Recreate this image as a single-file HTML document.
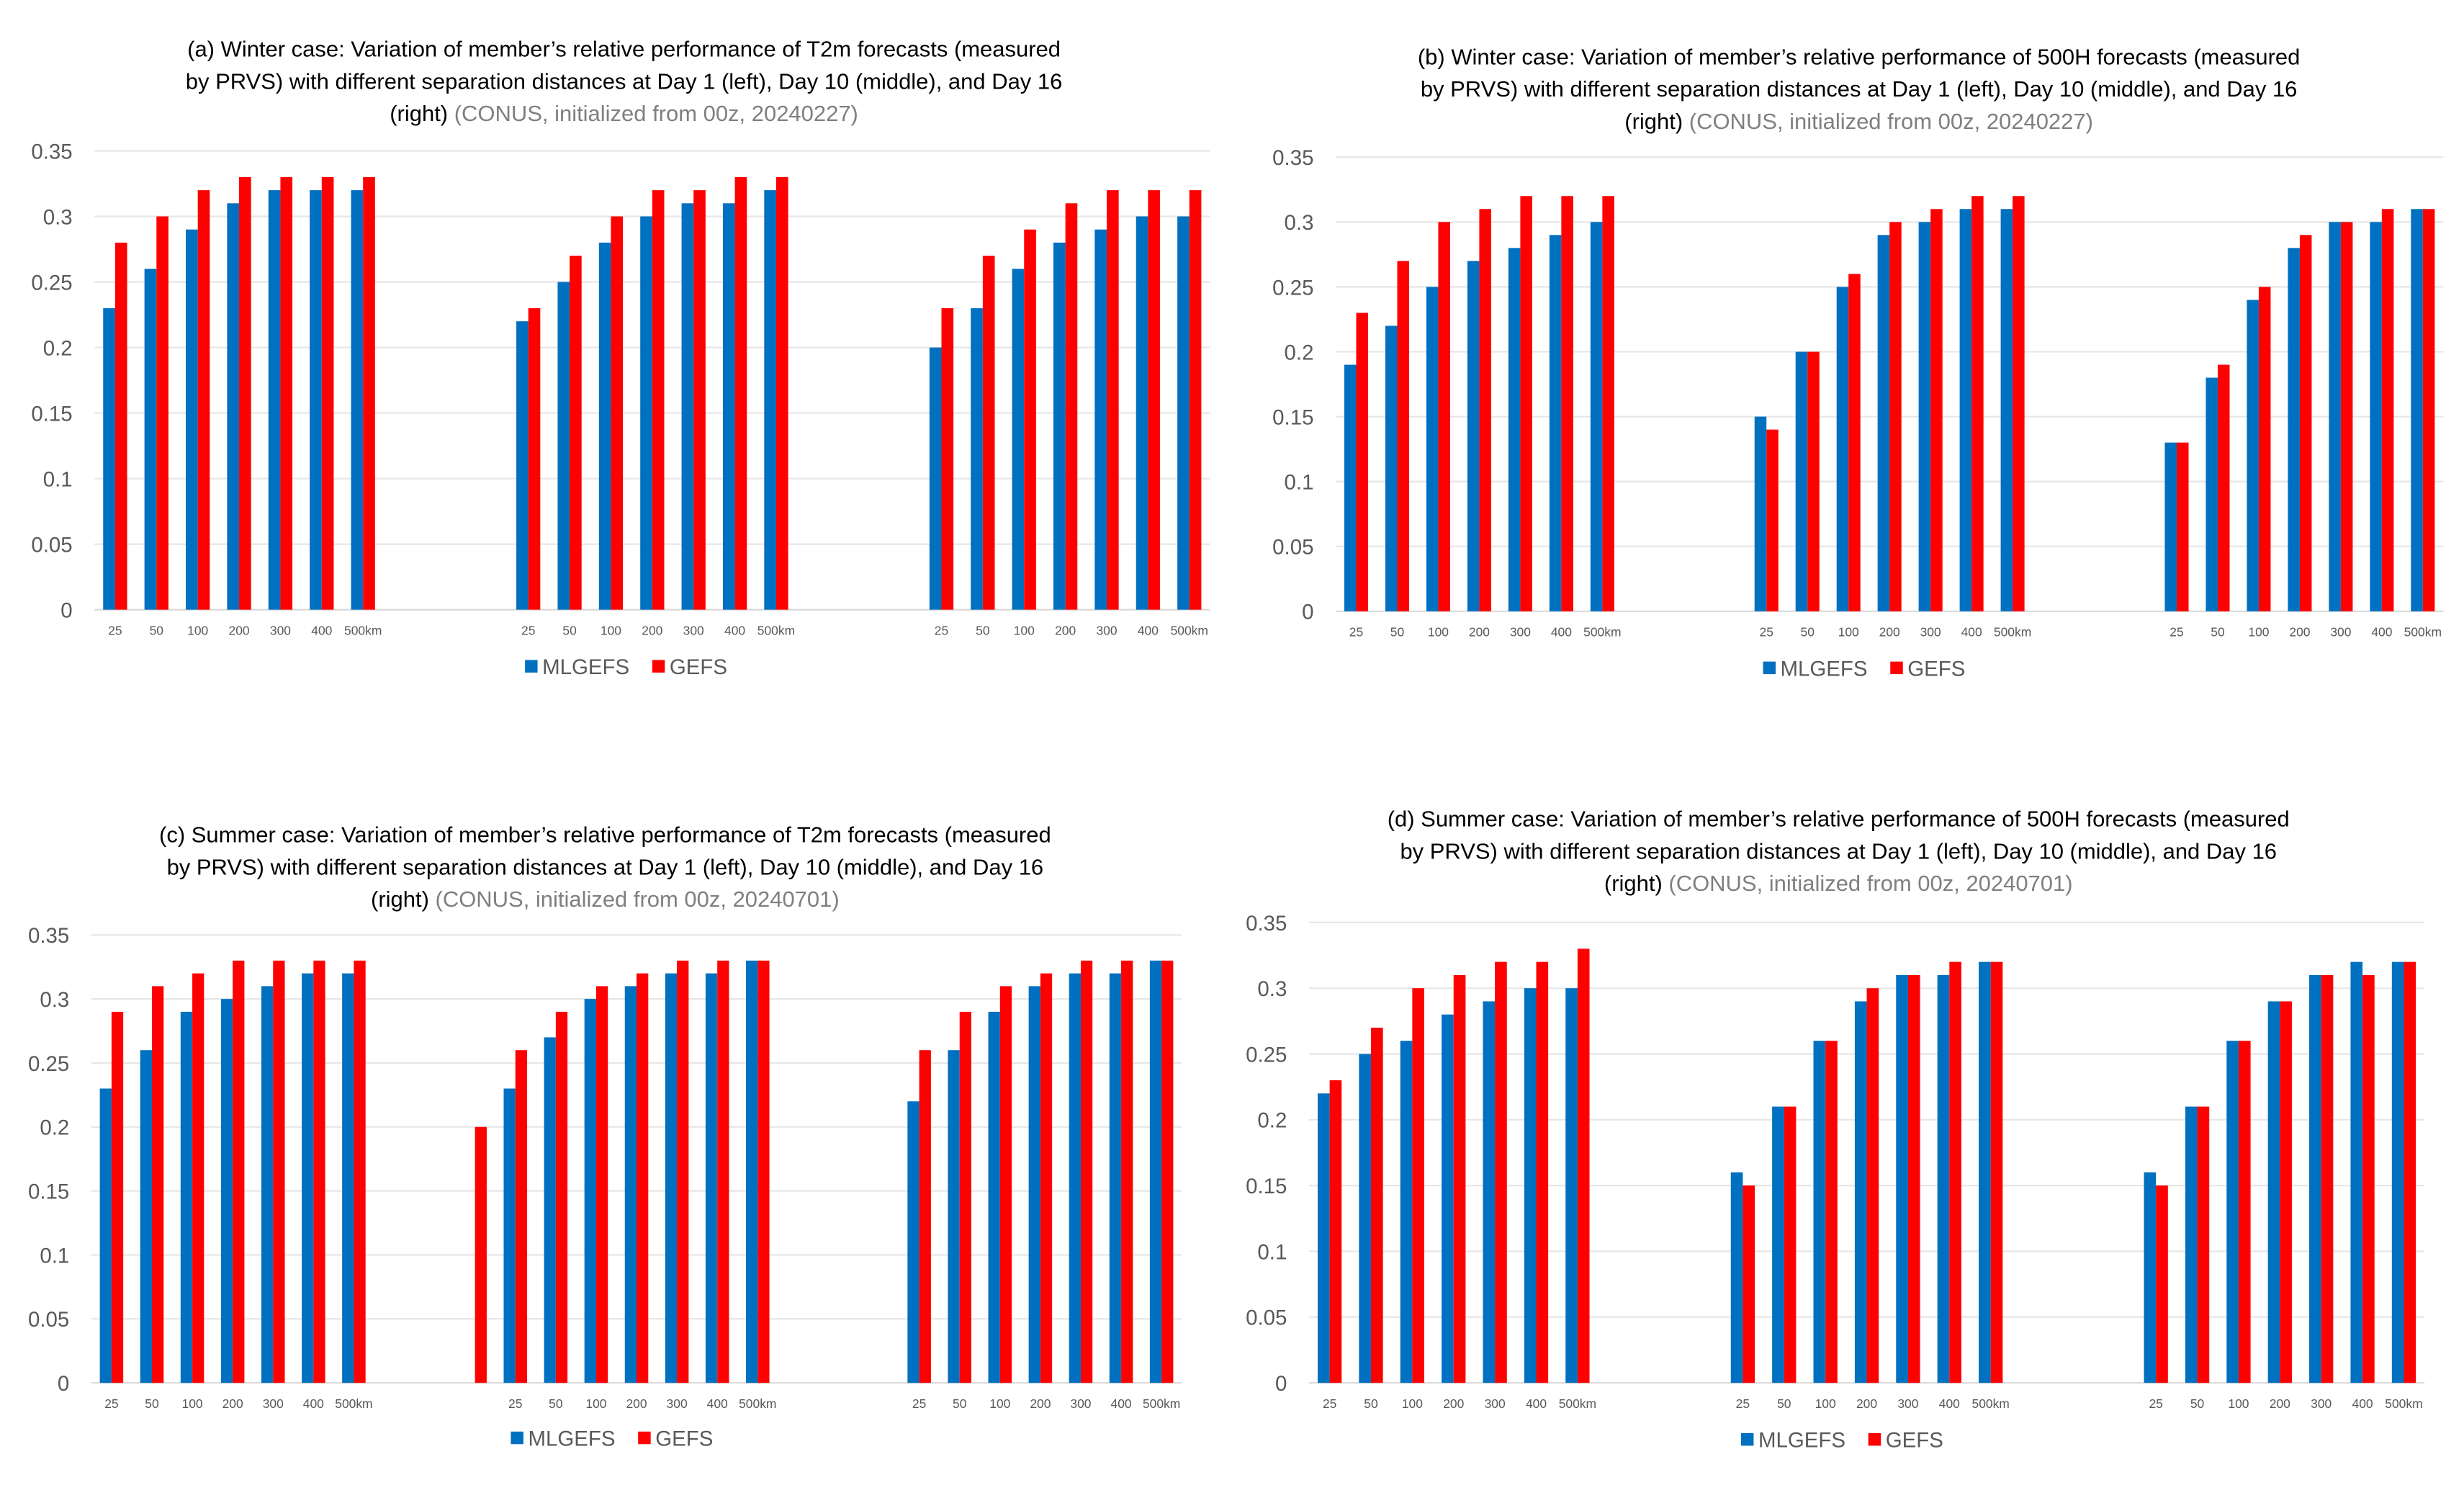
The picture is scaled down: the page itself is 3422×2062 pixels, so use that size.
<!DOCTYPE html>
<html><head><meta charset="utf-8">
<style>
html,body{margin:0;padding:0;background:#fff;}
svg{display:block;}
text{font-family:"Liberation Sans",sans-serif;}
</style></head>
<body>
<svg id="fig" width="3422" height="2062" viewBox="0 0 1568 945" xmlns="http://www.w3.org/2000/svg"></svg>
<script>
// ---- data ----
const distances = ["25","50","100","200","300","400","500km"];
const yTicks = [0,0.05,0.1,0.15,0.2,0.25,0.3,0.35];
const yTickLabels = ["0","0.05","0.1","0.15","0.2","0.25","0.3","0.35"];
// panel a
const aML = [.23,.26,.29,.31,.32,.32,.32, null,null,null, .22,.25,.28,.30,.31,.31,.32, null,null,null, .20,.23,.26,.28,.29,.30,.30];
const aGE = [.28,.30,.32,.33,.33,.33,.33, null,null,null, .23,.27,.30,.32,.32,.33,.33, null,null,null, .23,.27,.29,.31,.32,.32,.32];
// panel b
const bML = [.19,.22,.25,.27,.28,.29,.30, null,null,null, .15,.20,.25,.29,.30,.31,.31, null,null,null, .13,.18,.24,.28,.30,.30,.31];
const bGE = [.23,.27,.30,.31,.32,.32,.32, null,null,null, .14,.20,.26,.30,.31,.32,.32, null,null,null, .13,.19,.25,.29,.30,.31,.31];
// panel c
const cML = [.23,.26,.29,.30,.31,.32,.32, null,null,null, .23,.27,.30,.31,.32,.32,.33, null,null,null, .22,.26,.29,.31,.32,.32,.33];
const cGE = [.29,.31,.32,.33,.33,.33,.33, null,null,.20, .26,.29,.31,.32,.33,.33,.33, null,null,null, .26,.29,.31,.32,.33,.33,.33];
// panel d
const dML = [.22,.25,.26,.28,.29,.30,.30, null,null,null, .16,.21,.26,.29,.31,.31,.32, null,null,null, .16,.21,.26,.29,.31,.32,.32];
const dGE = [.23,.27,.30,.31,.32,.32,.33, null,null,null, .15,.21,.26,.30,.31,.32,.32, null,null,null, .15,.21,.26,.29,.31,.31,.32];

const titlesA = ["(a) Winter case: Variation of member’s relative performance of T2m forecasts (measured","by PRVS) with different separation distances at Day 1 (left), Day 10 (middle), and Day 16","(right)","(CONUS, initialized from 00z, 20240227)"];
const titlesB = ["(b) Winter case: Variation of member’s relative performance of 500H forecasts (measured","by PRVS) with different separation distances at Day 1 (left), Day 10 (middle), and Day 16","(right)","(CONUS, initialized from 00z, 20240227)"];
const titlesC = ["(c) Summer case: Variation of member’s relative performance of T2m forecasts (measured","by PRVS) with different separation distances at Day 1 (left), Day 10 (middle), and Day 16","(right)","(CONUS, initialized from 00z, 20240701)"];
const titlesD = ["(d) Summer case: Variation of member’s relative performance of 500H forecasts (measured","by PRVS) with different separation distances at Day 1 (left), Day 10 (middle), and Day 16","(right)","(CONUS, initialized from 00z, 20240701)"];

const NS="http://www.w3.org/2000/svg";
const svg=document.getElementById('fig');
function mk(tag,attrs,parent){const e=document.createElementNS(NS,tag);for(const k in attrs)e.setAttribute(k,attrs[k]);(parent||svg).appendChild(e);return e;}

function panel(id,cfg,ml,ge,titles){
  const g=mk('g',{});
  
  
  const N=ml.length;
  const pitch=(cfg.x1-cfg.x0)/N;
  const xC=i=>cfg.x0+pitch*(i+0.5);
  const yS=v=>cfg.y0-(v/0.35)*(cfg.y0-cfg.yTop);
  const tg=mk('g',{},g);
  
  
  for(let l=0;l<2;l++){
    const t=mk('text',{x:cfg.tx,y:cfg.ty+l*20.5,'text-anchor':'middle','font-size':14.2,fill:'#000'},tg);
    t.textContent=titles[l];
  }
  const t3=mk('text',{x:cfg.tx,y:cfg.ty+41,'text-anchor':'middle','font-size':14.2,fill:'#000'},tg);
  const s1=mk('tspan',{},t3); s1.textContent=titles[2]+" ";
  const s2=mk('tspan',{fill:'#7f7f7f'},t3); s2.textContent=titles[3];
  yTicks.forEach((v,i)=>{
    const gl=mk('line',{x1:cfg.x0,x2:cfg.x1,y1:yS(v),y2:yS(v),stroke:v===0?'#d9d9d9':'#e6e6e6','stroke-width':1},g);
    
    
    const tl=mk('text',{x:cfg.x0-14,y:yS(v)+5,'text-anchor':'end','font-size':13.5,fill:'#595959'},g);
    
    
    tl.textContent=yTickLabels[i];
  });
  const bw=pitch*0.29;
  for(let i=0;i<N;i++){
    if(ml[i]!=null){
      const r=mk('rect',{x:xC(i)-bw,y:yS(ml[i]),width:bw,height:yS(0)-yS(ml[i]),fill:'#0070c0'},g);
      
      
    }
    if(ge[i]!=null){
      const r=mk('rect',{x:xC(i),y:yS(ge[i]),width:bw,height:yS(0)-yS(ge[i]),fill:'#ff0000'},g);
      
      
    }
  }
  [0,10,20].forEach(start=>{
    distances.forEach((d,j)=>{
      const t=mk('text',{x:xC(start+j),y:cfg.y0+16,'text-anchor':'middle','font-size':8,fill:'#595959'},g);
      
      
      t.textContent=d;
    });
  });
  const lg=mk('g',{},g);
  
  
  const lx=cfg.lx, ly=cfg.ly;
  const e1=mk('rect',{x:lx,y:ly-9,width:8,height:8,fill:'#0070c0'},lg);
  
  
  const t1=mk('text',{x:lx+11,y:ly,'font-size':13.5,fill:'#595959'},lg); t1.textContent="MLGEFS";
  
  
  const e2=mk('rect',{x:lx+81,y:ly-9,width:8,height:8,fill:'#ff0000'},lg);
  
  
  const t2=mk('text',{x:lx+92,y:ly,'font-size':13.5,fill:'#595959'},lg); t2.textContent="GEFS";
  
  
}
panel('chart-a',{x0:60,x1:770,yTop:96,y0:388,tx:397,ty:36,lx:334,ly:429},aML,aGE,titlesA);
panel('chart-b',{x0:850,x1:1555,yTop:100,y0:389,tx:1183,ty:41,lx:1122,ly:430},bML,bGE,titlesB);
panel('chart-c',{x0:58,x1:752,yTop:595,y0:880,tx:385,ty:536,lx:325,ly:920},cML,cGE,titlesC);
panel('chart-d',{x0:833,x1:1543,yTop:587,y0:880,tx:1170,ty:526,lx:1108,ly:921},dML,dGE,titlesD);
</script>
</body></html>
